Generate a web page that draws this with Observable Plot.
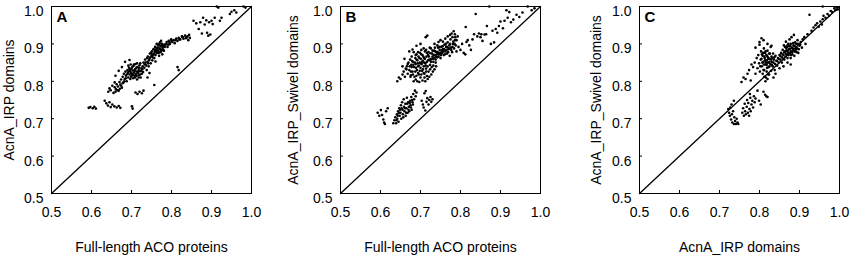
<!DOCTYPE html>
<html><head><meta charset="utf-8">
<script src="https://cdn.jsdelivr.net/npm/d3@7"></script>
<script src="https://cdn.jsdelivr.net/npm/@observablehq/plot@0.6"></script>
<style>
body{margin:0;background:#fff}
#wrap{position:relative;width:850px;height:255px;background:#fff;font-family:"Liberation Sans",Arial,sans-serif}
</style>
</head><body><div id="wrap"></div>
<script>
const tickValues = [0.5, 0.6, 0.7, 0.8, 0.9, 1.0];
const identityLine = [0.5, 1.0];

const panelA = [
[0.593,0.729],[0.597,0.731],[0.603,0.728],[0.607,0.732],[0.611,0.727],
[0.633,0.748],[0.637,0.741],[0.641,0.735],[0.645,0.744],[0.648,0.731],[0.652,0.738],[0.657,0.733],[0.663,0.730],[0.668,0.734],[0.672,0.729],[0.703,0.727],[0.701,0.733],
[0.642,0.772],[0.645,0.781],[0.648,0.776],[0.652,0.788],[0.655,0.769],[0.658,0.784],[0.661,0.779],[0.663,0.792],[0.666,0.786],[0.668,0.775],[0.670,0.798],[0.672,0.791],[0.674,0.805],[0.676,0.783],[0.678,0.812],[0.680,0.797],[0.681,0.820],[0.683,0.806],[0.685,0.826],[0.686,0.815],[0.688,0.800],[0.690,0.830],[0.691,0.822],[0.692,0.810],[0.694,0.836],[0.695,0.818],[0.697,0.827],[0.698,0.845],[0.699,0.812],[0.700,0.834],[0.701,0.820],[0.703,0.829],[0.704,0.808],[0.705,0.841],[0.706,0.823],[0.708,0.815],[0.709,0.832],[0.710,0.846],[0.711,0.819],[0.712,0.826],[0.714,0.805],[0.715,0.838],[0.716,0.822],[0.718,0.830],[0.719,0.816],[0.720,0.843],[0.722,0.827],[0.723,0.810],[0.725,0.835],[0.726,0.820],[0.728,0.840],
[0.688,0.818],[0.693,0.826],[0.696,0.832],[0.699,0.822],[0.702,0.838],[0.704,0.816],[0.707,0.828],[0.709,0.810],[0.712,0.836],[0.713,0.815],[0.717,0.826],[0.719,0.836],[0.721,0.818],[0.724,0.828],[0.727,0.832],[0.692,0.842],[0.686,0.808],[0.682,0.800],[0.678,0.795],[0.674,0.788],[0.671,0.780],[0.665,0.776],[0.660,0.772],[0.697,0.806],[0.700,0.815],[0.706,0.845],[0.714,0.848],[0.718,0.810],[0.722,0.848],[0.729,0.825],
[0.684,0.852],[0.695,0.857],[0.668,0.828],[0.660,0.815],[0.676,0.838],[0.710,0.770],[0.715,0.766],[0.720,0.772],[0.726,0.768],[0.730,0.775],[0.658,0.797],
[0.730,0.850],[0.732,0.836],[0.734,0.858],[0.736,0.844],[0.738,0.830],[0.740,0.852],[0.741,0.866],[0.743,0.840],[0.745,0.860],[0.746,0.874],[0.748,0.848],[0.750,0.868],[0.751,0.880],[0.752,0.856],[0.754,0.872],[0.755,0.886],[0.757,0.862],[0.758,0.878],[0.759,0.892],[0.760,0.870],[0.762,0.884],[0.763,0.900],[0.764,0.876],[0.765,0.890],[0.767,0.882],[0.768,0.896],[0.769,0.868],[0.770,0.888],[0.771,0.904],[0.772,0.878],[0.773,0.894],[0.775,0.884],[0.776,0.900],[0.777,0.872],[0.778,0.890],[0.780,0.896],[0.781,0.882],[0.783,0.892],
[0.735,0.850],[0.739,0.862],[0.742,0.848],[0.744,0.856],[0.747,0.864],[0.749,0.876],[0.753,0.864],[0.756,0.872],[0.758,0.884],[0.761,0.878],[0.763,0.888],[0.766,0.882],[0.768,0.876],[0.770,0.900],[0.772,0.886],[0.774,0.880],[0.776,0.894],[0.779,0.884],[0.782,0.898],[0.774,0.908],[0.766,0.898],[0.752,0.870],[0.737,0.842],[0.733,0.845],
[0.757,0.790],[0.745,0.822],[0.740,0.810],[0.760,0.853],
[0.785,0.898],[0.788,0.905],[0.790,0.892],[0.793,0.908],[0.796,0.900],[0.799,0.912],[0.802,0.905],[0.805,0.910],[0.808,0.902],[0.812,0.914],[0.815,0.908],[0.818,0.916],[0.822,0.912],[0.826,0.920],[0.830,0.914],[0.834,0.922],[0.838,0.917],[0.842,0.910],[0.846,0.916],
[0.787,0.900],[0.792,0.898],[0.795,0.904],[0.800,0.908],[0.810,0.910],[0.820,0.912],[0.828,0.918],[0.836,0.915],[0.840,0.920],[0.844,0.924],
[0.815,0.838],[0.818,0.830],
[0.855,0.962],[0.862,0.955],[0.868,0.940],[0.872,0.958],[0.876,0.928],[0.879,0.970],[0.883,0.952],[0.887,0.963],[0.889,0.930],[0.892,0.922],[0.894,0.958],[0.897,0.925],[0.900,0.962],[0.903,0.953],[0.908,0.970],[0.913,1.000],[0.917,0.997],[0.921,0.962],[0.925,0.970],[0.946,0.980],[0.950,0.986],[0.957,0.990],[0.962,0.984],[0.980,1.000],[0.985,0.997]
];

const panelB = [
[0.593,0.716],[0.597,0.708],[0.601,0.723],[0.604,0.710],[0.607,0.698],[0.609,0.690],[0.611,0.686],[0.614,0.720],[0.618,0.728],
[0.632,0.688],[0.635,0.696],[0.637,0.704],[0.639,0.688],[0.641,0.712],[0.642,0.700],[0.644,0.720],[0.645,0.692],[0.647,0.728],[0.648,0.708],[0.650,0.716],[0.651,0.736],[0.652,0.700],[0.654,0.744],[0.655,0.724],[0.656,0.712],[0.658,0.752],[0.659,0.732],[0.660,0.720],[0.662,0.740],[0.663,0.708],[0.665,0.728],[0.666,0.756],[0.668,0.716],[0.669,0.744],[0.671,0.732],[0.672,0.720],[0.674,0.748],[0.675,0.736],[0.677,0.758],[0.678,0.724],[0.680,0.744],[0.682,0.766],[0.684,0.752],[0.686,0.775],[0.688,0.760],[0.690,0.770],
[0.640,0.696],[0.646,0.716],[0.653,0.728],[0.657,0.704],[0.661,0.728],[0.664,0.716],[0.667,0.740],[0.670,0.724],[0.673,0.742],[0.676,0.730],[0.679,0.750],[0.681,0.738],[0.649,0.724],[0.643,0.708],
[0.703,0.748],[0.706,0.738],[0.708,0.730],[0.710,0.768],[0.712,0.722],[0.713,0.774],[0.715,0.745],[0.717,0.755],[0.720,0.738],[0.722,0.750],[0.725,0.758],[0.727,0.745],[0.730,0.752],
[0.642,0.800],[0.646,0.810],[0.650,0.806],[0.655,0.818],[0.658,0.826],[0.661,0.812],[0.663,0.834],[0.666,0.840],[0.668,0.820],[0.670,0.850],[0.672,0.830],[0.674,0.858],[0.675,0.812],[0.677,0.844],[0.678,0.866],[0.680,0.826],[0.681,0.852],[0.683,0.878],[0.684,0.838],[0.685,0.812],[0.687,0.862],[0.688,0.846],[0.690,0.872],[0.691,0.830],[0.692,0.856],[0.694,0.840],[0.695,0.866],[0.696,0.818],[0.698,0.850],[0.699,0.876],[0.700,0.836],[0.701,0.860],[0.703,0.846],[0.704,0.828],[0.705,0.870],[0.706,0.855],[0.708,0.840],[0.709,0.862],[0.710,0.820],[0.711,0.880],[0.712,0.848],[0.713,0.918],[0.714,0.834],[0.715,0.866],[0.716,0.852],[0.717,0.922],[0.718,0.840],[0.719,0.870],[0.720,0.826],[0.722,0.858],[0.723,0.890],[0.724,0.844],[0.725,0.875],[0.727,0.860],[0.728,0.838],[0.730,0.866],[0.732,0.852],[0.734,0.882],[0.736,0.870],[0.738,0.858],[0.740,0.878],[0.742,0.864],[0.744,0.890],[0.746,0.872],[0.748,0.884],[0.750,0.862],[0.752,0.892],[0.754,0.876],[0.756,0.886],[0.758,0.870],[0.760,0.898],[0.762,0.880],[0.764,0.892],[0.766,0.874],[0.768,0.904],[0.770,0.886],[0.772,0.896],[0.773,0.868],[0.775,0.912],[0.776,0.890],[0.778,0.928],[0.779,0.878],[0.781,0.900],[0.783,0.934],[0.784,0.888],[0.786,0.910],[0.788,0.896],[0.790,0.880],
[0.665,0.832],[0.668,0.846],[0.673,0.840],[0.676,0.826],[0.679,0.854],[0.682,0.844],[0.686,0.850],[0.689,0.836],[0.693,0.848],[0.697,0.862],[0.700,0.848],[0.702,0.872],[0.704,0.852],[0.707,0.866],[0.709,0.850],[0.711,0.860],[0.713,0.842],[0.716,0.876],[0.719,0.856],[0.721,0.866],[0.724,0.856],[0.726,0.852],[0.729,0.874],[0.731,0.860],[0.733,0.870],[0.735,0.862],[0.737,0.880],[0.739,0.866],[0.741,0.872],[0.743,0.878],[0.745,0.866],[0.747,0.892],[0.749,0.876],[0.751,0.870],[0.753,0.882],[0.755,0.894],[0.757,0.880],[0.759,0.886],[0.761,0.872],[0.763,0.900],[0.765,0.884],[0.767,0.892],[0.769,0.878],[0.771,0.888],[0.774,0.900],[0.777,0.884],[0.780,0.892],[0.782,0.906],[0.785,0.900],[0.787,0.918],[0.678,0.838],[0.690,0.858],[0.696,0.842],[0.706,0.832],[0.714,0.826],[0.702,0.818],[0.694,0.822],[0.687,0.826],[0.700,0.810],[0.710,0.810],
[0.683,0.800],[0.688,0.805],[0.692,0.800],[0.697,0.798],[0.705,0.802],[0.712,0.800],[0.718,0.806],[0.722,0.812],[0.727,0.818],[0.731,0.826],[0.735,0.832],[0.739,0.840],[0.676,0.816],[0.681,0.818],[0.690,0.815],[0.698,0.828],[0.708,0.822],[0.716,0.814],[0.724,0.832],[0.732,0.842],[0.738,0.850],[0.688,0.870],[0.694,0.878],[0.702,0.884],[0.708,0.888],[0.714,0.884],[0.720,0.878],[0.726,0.888],[0.730,0.882],[0.736,0.890],[0.742,0.896],[0.750,0.910],[0.756,0.906],[0.762,0.914],[0.768,0.920],[0.774,0.924],[0.780,0.918],[0.786,0.926],[0.790,0.910],[0.793,0.920],
[0.660,0.860],[0.672,0.880],[0.680,0.885],[0.655,0.840],[0.735,0.900],[0.745,0.905],[0.700,0.900],[0.690,0.895],
[0.795,0.892],[0.800,0.884],[0.804,0.900],[0.808,0.876],[0.812,0.872],[0.813,0.945],[0.815,0.905],[0.818,0.910],[0.822,0.896],[0.826,0.884],[0.830,0.912],[0.834,0.926],[0.838,0.980],[0.842,0.920],[0.846,0.928],[0.850,0.918],[0.852,0.926],[0.855,0.908],[0.860,0.925],[0.864,0.926],[0.866,0.948],[0.872,1.000],[0.876,0.900],[0.880,0.935],[0.884,0.904],[0.888,0.940],[0.892,0.930],[0.896,0.948],[0.900,0.960],[0.906,0.942],[0.910,0.962],[0.915,0.990],[0.918,0.970],[0.922,0.985],[0.926,0.958],[0.932,0.965],[0.940,0.978],[0.947,0.972],[0.955,0.984],[0.968,1.000],[0.978,0.990],[0.985,0.995]
];

const panelC = [
[0.722,0.726],[0.724,0.716],[0.726,0.708],[0.727,0.730],[0.729,0.698],[0.731,0.712],[0.732,0.690],[0.734,0.720],[0.736,0.686],[0.737,0.704],[0.739,0.694],[0.741,0.686],[0.743,0.700],[0.745,0.690],[0.747,0.686],[0.736,0.748],[0.730,0.738],
[0.757,0.716],[0.759,0.728],[0.761,0.708],[0.763,0.740],[0.764,0.720],[0.766,0.712],[0.768,0.732],[0.769,0.750],[0.771,0.716],[0.772,0.742],[0.774,0.708],[0.775,0.726],[0.777,0.756],[0.778,0.720],[0.780,0.738],[0.782,0.748],[0.784,0.730],[0.786,0.760],[0.788,0.744],[0.790,0.754],[0.776,0.766],
[0.795,0.775],[0.799,0.748],[0.803,0.738],[0.810,0.772],[0.814,0.764],[0.817,0.760],[0.820,0.758],
[0.755,0.798],[0.760,0.810],[0.765,0.806],[0.770,0.820],[0.774,0.830],[0.778,0.802],[0.780,0.845],[0.784,0.838],[0.788,0.850],[0.790,0.820],[0.793,0.862],[0.795,0.835],[0.797,0.870],[0.799,0.848],[0.800,0.898],[0.801,0.826],[0.803,0.858],[0.804,0.880],[0.805,0.915],[0.806,0.840],[0.808,0.868],[0.810,0.852],[0.811,0.888],[0.812,0.830],[0.813,0.862],[0.814,0.876],[0.815,0.845],[0.816,0.810],[0.817,0.870],[0.818,0.856],[0.819,0.836],[0.820,0.882],[0.821,0.864],[0.822,0.818],[0.823,0.850],[0.824,0.874],[0.825,0.840],[0.826,0.860],[0.828,0.892],[0.829,0.828],[0.830,0.866],[0.831,0.852],[0.833,0.840],[0.834,0.874],[0.836,0.858],[0.838,0.830],[0.839,0.846],[0.840,0.868],[0.842,0.855],[0.844,0.842],[0.846,0.862],[0.848,0.850],[0.850,0.870],[0.852,0.858],[0.854,0.876],[0.856,0.864],[0.858,0.884],[0.860,0.870],[0.861,0.896],[0.862,0.858],[0.864,0.880],[0.865,0.866],[0.866,0.906],[0.867,0.888],[0.868,0.872],[0.869,0.892],[0.870,0.862],[0.871,0.882],[0.872,0.900],[0.873,0.870],[0.874,0.886],[0.875,0.912],[0.876,0.876],[0.877,0.894],[0.878,0.862],[0.879,0.880],[0.880,0.918],[0.881,0.890],[0.882,0.872],[0.884,0.902],[0.885,0.884],[0.886,0.924],[0.887,0.868],[0.888,0.894],[0.890,0.880],[0.892,0.900],[0.894,0.888],[0.895,0.910],[0.897,0.876],[0.900,0.895],[0.903,0.905],[0.906,0.890],[0.908,0.912],[0.912,0.918],[0.915,0.900],
[0.802,0.840],[0.805,0.860],[0.807,0.850],[0.809,0.876],[0.811,0.845],[0.812,0.866],[0.814,0.856],[0.815,0.880],[0.816,0.850],[0.818,0.844],[0.819,0.868],[0.820,0.850],[0.822,0.860],[0.823,0.838],[0.825,0.852],[0.826,0.874],[0.827,0.846],[0.829,0.858],[0.831,0.844],[0.832,0.862],[0.835,0.850],[0.837,0.864],[0.808,0.820],[0.812,0.812],[0.815,0.800],[0.818,0.826],[0.820,0.806],[0.824,0.818],[0.810,0.830],[0.806,0.872],
[0.858,0.872],[0.862,0.878],[0.864,0.892],[0.866,0.874],[0.868,0.882],[0.870,0.896],[0.872,0.876],[0.874,0.894],[0.876,0.886],[0.878,0.900],[0.879,0.870],[0.881,0.878],[0.883,0.888],[0.885,0.896],[0.887,0.880],[0.889,0.904],[0.891,0.886],[0.893,0.878],[0.896,0.900],[0.898,0.886],[0.902,0.898],[0.860,0.860],[0.856,0.850],[0.852,0.868],[0.848,0.860],[0.844,0.854],
[0.790,0.890],[0.800,0.905],[0.810,0.910],[0.820,0.900],[0.830,0.895],[0.840,0.820],[0.835,0.810],[0.850,0.835],[0.860,0.840],[0.870,0.850],[0.878,0.845],
[0.920,0.926],[0.925,0.978],[0.930,0.935],[0.935,0.944],[0.940,0.950],[0.944,0.955],[0.948,0.946],[0.952,0.960],[0.956,0.952],[0.958,0.966],[0.960,0.975],[0.965,0.970],[0.970,0.980],[0.974,0.975],[0.978,0.988],[0.982,0.985],[0.987,0.995],[0.990,0.990],[0.993,0.998],[0.996,0.992],[0.958,1.000]
];

const panelLetters = ["A", "B", "C"];
const xTitles = ["Full-length ACO proteins", "Full-length ACO proteins", "AcnA_IRP domains"];
const yTitles = ["AcnA_IRP domains", "AcnA_IRP_Swivel domains", "AcnA_IRP_Swivel domains"];
const panelData = [panelA, panelB, panelC];

const layout = [
  {left: 0, yTitleDx: -42},
  {left: 289, yTitleDx: -46.5},
  {left: 588, yTitleDx: -42.5}
];

const font = '"Liberation Sans", Arial, sans-serif';
const fmt = d3.format(".1f");
const wrap = document.getElementById("wrap");

panelData.forEach((data, i) => {
  const chart = Plot.plot({
    width: 260, height: 255,
    marginLeft: 51, marginRight: 9, marginTop: 6, marginBottom: 62,
    x: {domain: [0.5, 1]},
    y: {domain: [0.5, 1]},
    style: {fontFamily: font, fontSize: "14px", color: "black", background: "transparent", overflow: "visible"},
    marks: [
      Plot.line(identityLine, {x: d => d, y: d => d, stroke: "black", strokeWidth: 1.3}),
      Plot.dot(data, {x: d => d[0], y: d => d[1], r: 1.3, fill: "black", stroke: null}),
      Plot.ruleX(tickValues.slice(1, -1), {x: d => d, y1: 0.5, y2: 0.508, stroke: "black"}),
      Plot.ruleY(tickValues.slice(1, -1), {y: d => d, x1: 0.5, x2: 0.5075, stroke: "black"}),
      Plot.frame({stroke: "black", strokeWidth: 1}),
      Plot.axisX(tickValues, {tickSize: 0, tickPadding: 14, tickFormat: fmt, fontSize: 14, label: null}),
      Plot.axisY(tickValues, {tickSize: 0, tickPadding: 8, dy: 5, tickFormat: fmt, fontSize: 14, label: null}),
      Plot.text([panelLetters[i]], {text: d => d, frameAnchor: "top-left", dx: 5, dy: 5, lineAnchor: "top", textAnchor: "start", fontWeight: "bold", fontSize: 15}),
      Plot.text([xTitles[i]], {text: d => d, frameAnchor: "bottom", dy: 54, lineAnchor: "middle", textAnchor: "middle", fontSize: 14}),
      Plot.text([yTitles[i]], {text: d => d, frameAnchor: "left", rotate: -90, dx: layout[i].yTitleDx, lineAnchor: "middle", textAnchor: "middle", fontSize: 14})
    ]
  });
  chart.style.position = "absolute";
  chart.style.left = layout[i].left + "px";
  chart.style.top = "0px";
  wrap.appendChild(chart);
});
</script>
</body></html>
